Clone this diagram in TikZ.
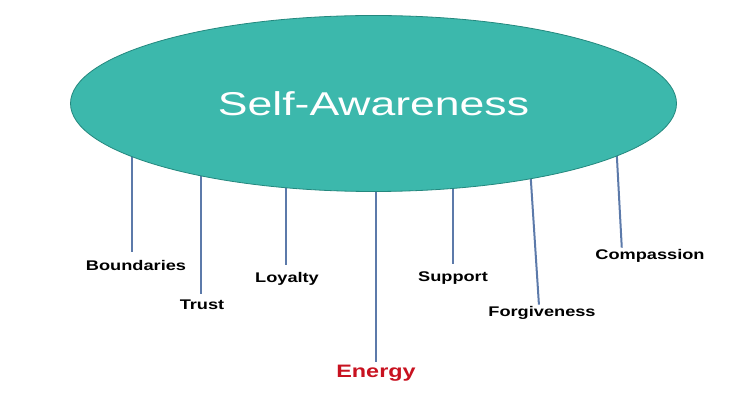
\documentclass[tikz,border=0pt]{standalone}
\usepackage{fontspec}
\setmainfont{Liberation Sans}
\usepackage{graphicx}
\usetikzlibrary{shapes.geometric}
\definecolor{awarefill}{RGB}{60,184,172}
\definecolor{awareedge}{RGB}{36,136,126}
\definecolor{stemblue}{RGB}{92,122,170}
\definecolor{energyred}{RGB}{200,18,32}
\begin{document}
\begin{tikzpicture}[x=1pt, y=-1pt,
    trait/.style={font=\bfseries\fontsize{14}{14}\selectfont, anchor=base,
                  inner sep=1pt, xscale=1.3},
    stem/.style={draw=stemblue, line width=2pt}
]
\useasboundingbox (0,0) rectangle (740,419);
\node[trait] (bnd) at (136,271) {Boundaries};
\node[trait] (tru) at (202,310) {Trust};
\node[trait] (loy) at (287,283) {Loyalty};
\node[trait, font=\bfseries\fontsize{18}{18}\selectfont, text=energyred] (eng) at (376,378) {Energy};
\node[trait] (sup) at (453,282) {Support};
\node[trait] (fgv) at (542,317) {Forgiveness};
\node[trait] (cmp) at (650,260) {Compassion};

\coordinate (t1) at (132,140);
\coordinate (t2) at (201,140);
\coordinate (t3) at (286,140);
\coordinate (t4) at (376,140);
\coordinate (t5) at (453,140);
\coordinate (t6) at (528.3,140);
\coordinate (t7) at (616,140);

\draw[stem, shorten >=8pt] (t1) -- (t1 |- bnd.north);
\draw[stem, shorten >=5pt] (t2) -- (t2 |- tru.north);
\draw[stem, shorten >=7pt] (t3) -- (t3 |- loy.north);
\draw[stem, shorten >=2pt] (t4) -- (eng.north);
\draw[stem, shorten >=7pt] (t5) -- (sup.north);
\draw[stem, shorten >=1pt] (t6) -- ([xshift=-3pt]fgv.north);
\draw[stem, shorten >=1pt] (t7) -- ([xshift=28pt]cmp.north west);

\node[ellipse, fill=awarefill, draw=awareedge, line width=0.8pt,
      minimum width=606pt, minimum height=176pt, inner sep=0pt,
      text=white, font=\fontsize{33}{33}\selectfont] (sa) at (373.5,103.5)
      {\scalebox{1.35}[1]{Self-Awareness}};
\end{tikzpicture}
\end{document}
